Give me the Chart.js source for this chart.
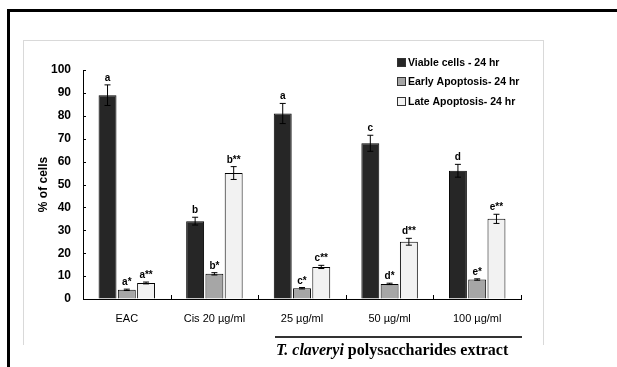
<!DOCTYPE html>
<html>

<head>
    <meta charset="utf-8" />
    <title></title>
    <style>
        body { margin: 0; width: 617px; height: 367px; overflow: hidden; background: #fff; position: relative; }
        .outer { position: absolute; left: 7px; top: 9px; width: 700px; height: 500px; border: 3px solid #000; }
        .frame { position: absolute; left: 23px; top: 40px; width: 519px; height: 304px; border: 1px solid #d9d9d9; border-bottom: none; }
        canvas { position: absolute; left: 0; top: 0; }
    </style>
</head>

<body>

    <div class="outer"></div>
    <div class="frame"></div>
    <canvas id="chart" width="617" height="367"></canvas>

    <script src="https://cdn.jsdelivr.net/npm/chart.js"></script>
    <script type="text/javascript">

        // Datos
        const categorias = ['EAC', 'Cis 20 \u00b5g/ml', '25 \u00b5g/ml', '50 \u00b5g/ml', '100 \u00b5g/ml'];

        const viables = [89, 34, 81, 68, 56];
        const viablesError = [4.5, 1.7, 4.4, 3.5, 2.8];
        const viablesLetras = ['a', 'b', 'a', 'c', 'd'];

        const tempranas = [4, 11, 4.7, 6.6, 8.5];
        const tempranasError = [0.3, 0.5, 0.3, 0.3, 0.3];
        const tempranasLetras = ['a*', 'b*', 'c*', 'd*', 'e*'];

        const tardias = [7, 55, 14, 25, 35];
        const tardiasError = [0.4, 2.8, 0.7, 1.5, 2];
        const tardiasLetras = ['a**', 'b**', 'c**', 'd**', 'e**'];

        const etiquetas = ['Viable cells - 24 hr', 'Early Apoptosis- 24 hr', 'Late Apoptosis- 24 hr'];
        const tituloY = '% of cells';
        const tituloCursiva = 'T. claveryi';
        const tituloResto = ' polysaccharides extract';

        const fuente = "'Liberation Sans Narrow', 'Arial Narrow', Arial, sans-serif";

        // Barras de error, letras, marcas internas, leyenda y titulo inferior
        const extras = {
            id: 'extras',
            afterDatasetsDraw(chart) {
                const ctx = chart.ctx;
                const y = chart.scales.y;
                chart.data.datasets.forEach((ds, i) => {
                    const meta = chart.getDatasetMeta(i);
                    meta.data.forEach((bar, j) => {
                        const x = bar.x;
                        const top = y.getPixelForValue(ds.data[j] + ds.errores[j]);
                        const bot = y.getPixelForValue(ds.data[j] - ds.errores[j]);
                        ctx.save();
                        ctx.strokeStyle = '#000';
                        ctx.lineWidth = 1;
                        ctx.beginPath();
                        ctx.moveTo(x, top); ctx.lineTo(x, bot);
                        ctx.moveTo(x - 3, top); ctx.lineTo(x + 3, top);
                        ctx.moveTo(x - 3, bot); ctx.lineTo(x + 3, bot);
                        ctx.stroke();
                        ctx.fillStyle = '#000';
                        ctx.font = 'bold 10px ' + fuente;
                        ctx.textAlign = 'center';
                        ctx.textBaseline = 'alphabetic';
                        ctx.fillText(ds.letras[j], x, top - 4);
                        ctx.restore();
                    });
                });
            },
            afterDraw(chart) {
                const ctx = chart.ctx;
                const y = chart.scales.y;
                const area = chart.chartArea;
                ctx.save();
                ctx.strokeStyle = '#000';
                ctx.lineWidth = 1;
                ctx.beginPath();
                // marcas del eje y hacia dentro
                for (let v = 0; v <= 100; v += 10) {
                    const py = Math.round(y.getPixelForValue(v)) + 0.5;
                    ctx.moveTo(area.left, py);
                    ctx.lineTo(area.left + 3, py);
                }
                // marcas del eje x entre categorias
                const n = categorias.length;
                for (let i = 0; i <= n; i++) {
                    const px = Math.round(area.left + i * (area.right - area.left) / n) + 0.5;
                    ctx.moveTo(px, area.bottom);
                    ctx.lineTo(px, area.bottom - 4);
                }
                ctx.stroke();

                // leyenda
                ctx.font = 'bold 10.5px ' + fuente;
                ctx.textAlign = 'left';
                ctx.textBaseline = 'middle';
                const filas = [63, 82, 102];
                chart.data.datasets.forEach((ds, i) => {
                    ctx.fillStyle = ds.backgroundColor;
                    ctx.fillRect(397.5, filas[i] - 4.5, 8, 8);
                    ctx.strokeStyle = '#333';
                    ctx.strokeRect(397.5, filas[i] - 4.5, 8, 8);
                    ctx.fillStyle = '#000';
                    ctx.fillText(ds.label, 408, filas[i]);
                });

                // linea y titulo del extracto
                ctx.lineWidth = 2;
                ctx.beginPath();
                ctx.moveTo(275, 337);
                ctx.lineTo(522, 337);
                ctx.stroke();
                ctx.font = "italic bold 16px 'Liberation Serif', 'Times New Roman', serif";
                ctx.textBaseline = 'middle';
                const w1 = ctx.measureText(tituloCursiva).width;
                ctx.fillText(tituloCursiva, 276, 351);
                ctx.font = "bold 16px 'Liberation Serif', 'Times New Roman', serif";
                ctx.fillText(tituloResto, 276 + w1, 351);
                ctx.restore();
            }
        };

        const data = {
            labels: categorias,
            datasets: [{
                label: etiquetas[0],
                data: viables,
                errores: viablesError,
                letras: viablesLetras,
                backgroundColor: '#262626',
                borderColor: '#000',
                borderWidth: 1
            }, {
                label: etiquetas[1],
                data: tempranas,
                errores: tempranasError,
                letras: tempranasLetras,
                backgroundColor: '#a6a6a6',
                borderColor: '#000',
                borderWidth: 1
            }, {
                label: etiquetas[2],
                data: tardias,
                errores: tardiasError,
                letras: tardiasLetras,
                backgroundColor: '#f2f2f2',
                borderColor: '#000',
                borderWidth: 1
            }]
        };

        const ctx = document.getElementById('chart').getContext('2d');

        let myChart = new Chart(ctx, {
            type: 'bar',
            data: data,
            plugins: [extras],
            options: {
                responsive: false,
                animation: false,
                categoryPercentage: 0.66,
                barPercentage: 0.93,
                layout: {
                    padding: { left: 20, top: 70, right: 96, bottom: 38 }
                },
                plugins: {
                    legend: { display: false },
                    tooltip: { enabled: false }
                },
                scales: {
                    x: {
                        grid: { display: true, drawOnChartArea: false, drawTicks: false },
                        border: { color: '#000', width: 1 },
                        ticks: { color: '#000', padding: 13, font: { family: fuente, size: 11 } },
                        afterFit: function (scale) { scale.height = 30; }
                    },
                    y: {
                        min: 0,
                        max: 100,
                        grid: { display: true, drawOnChartArea: false, drawTicks: false },
                        border: { color: '#000', width: 1 },
                        ticks: { stepSize: 10, color: '#000', padding: 12, font: { family: fuente, size: 12, weight: 'bold' } },
                        title: {
                            display: true,
                            text: tituloY,
                            color: '#000',
                            padding: { top: 16, bottom: 0 },
                            font: { family: fuente, size: 12, weight: 'bold' }
                        },
                        afterFit: function (scale) { scale.width = 63; }
                    }
                }
            }
        });
    </script>

</body>

</html>
